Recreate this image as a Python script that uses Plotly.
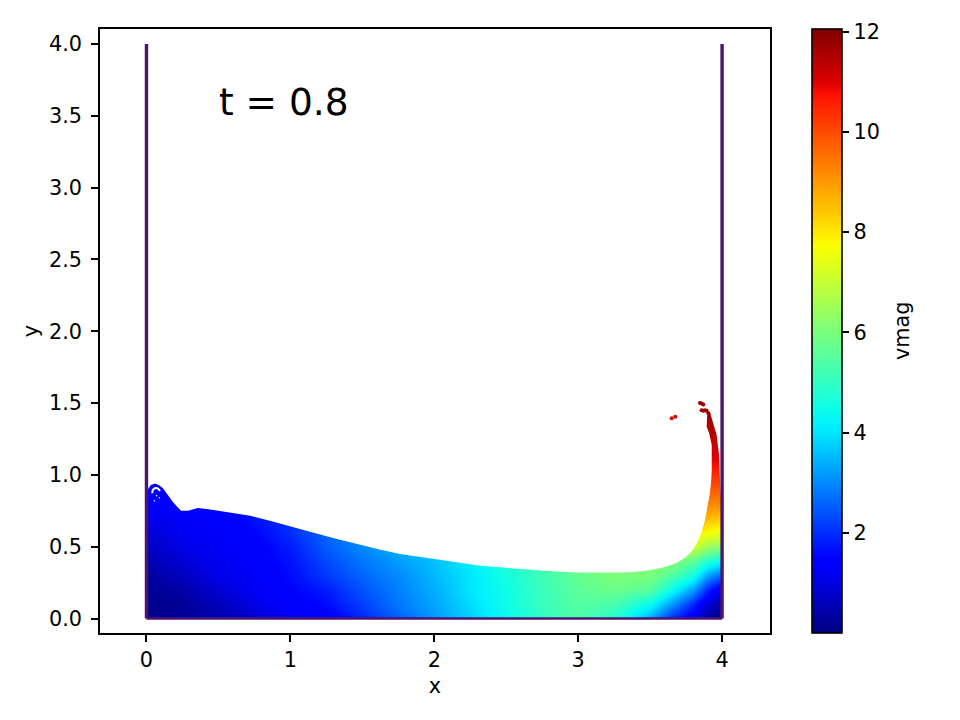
import plotly.graph_objects as go

grid_x = [0, .25, .5, .75, 1, 1.25, 1.5, 1.75, 2, 2.25, 2.5, 2.75, 3, 3.25, 3.5, 3.65, 3.8, 3.9, 4]
grid_y = [0, .02, .1, .2, .3, .4, .5, .6, .7, .8, .95, 1.1, 1.3, 1.5]
vmag = [
 [.6, .6, .9, 1.2, 1.4, 1.5, 1.6, 2.0, 2.9, 3.6, 4.1, 4.7, 5.1, 4.6, 3.2, 2.0, 1.0, .3, .1],
 [.1, .3, .5, .9, 1.2, 1.4, 2.0, 2.6, 3.2, 3.8, 4.4, 5.0, 5.4, 4.9, 3.5, 2.2, 1.3, .4, .1],
 [.15, .25, .6, 1.1, 1.4, 1.6, 2.2, 2.8, 3.3, 3.9, 4.5, 5.1, 5.5, 5.3, 4.4, 3.2, 1.9, .9, .3],
 [.2, .4, .9, 1.25, 1.5, 1.8, 2.4, 2.9, 3.4, 4.0, 4.5, 5.1, 5.6, 5.8, 5.5, 4.4, 3.2, 1.9, 1.0],
 [.3, .7, 1.1, 1.3, 1.6, 2.1, 2.6, 3.0, 3.5, 4.0, 4.6, 5.2, 5.7, 6.0, 6.0, 5.4, 4.5, 3.2, 2.5],
 [.5, .9, 1.2, 1.35, 1.7, 2.3, 2.8, 3.2, 3.6, 4.1, 4.7, 5.3, 5.8, 6.0, 6.2, 6.2, 5.6, 4.8, 4.4],
 [.7, 1.1, 1.25, 1.4, 1.8, 2.5, 3.0, 3.4, 3.8, 4.4, 5.0, 5.5, 5.8, 6.0, 6.2, 6.4, 7.2, 6.4, 6.2],
 [.9, 1.2, 1.3, 1.5, 2.0, 2.6, 3.0, 3.4, 3.8, 4.4, 5.0, 5.5, 5.8, 6.0, 6.2, 6.6, 8.0, 7.7, 7.4],
 [1.1, 1.3, 1.35, 1.7, 2.0, 2.6, 3.0, 3.4, 3.8, 4.4, 5.0, 5.5, 5.8, 6.0, 6.2, 6.6, 8.4, 8.6, 8.4],
 [1.3, 1.4, 1.4, 1.7, 2.0, 2.6, 3.0, 3.4, 3.8, 4.4, 5.0, 5.5, 5.8, 6.0, 6.2, 6.6, 8.8, 9.2, 9.2],
 [1.4, 1.4, 1.4, 1.7, 2.0, 2.6, 3.0, 3.4, 3.8, 4.4, 5.0, 5.5, 5.8, 6.0, 6.2, 6.6, 9.4, 10.1, 10.1],
 [1.4, 1.4, 1.4, 1.7, 2.0, 2.6, 3.0, 3.4, 3.8, 4.4, 5.0, 5.5, 5.8, 6.0, 6.2, 6.6, 10.0, 10.9, 10.9],
 [1.4, 1.4, 1.4, 1.7, 2.0, 2.6, 3.0, 3.4, 3.8, 4.4, 5.0, 5.5, 5.8, 6.0, 6.2, 6.6, 11.0, 11.4, 11.4],
 [1.4, 1.4, 1.4, 1.7, 2.0, 2.6, 3.0, 3.4, 3.8, 4.4, 5.0, 5.5, 5.8, 6.0, 6.2, 6.6, 11.9, 11.9, 11.9],
]

# water outline (counter-clockwise from the floor)
surface_x = [0, 4, 4, 3.988, 3.985, 3.979, 3.962, 3.93, 3.915, 3.897, 3.893, 3.91, 3.928, 3.928, 3.922, 3.911, 3.898, 3.881,
             3.86, 3.835, 3.807, 3.777, 3.735, 3.685, 3.63, 3.568, 3.48, 3.38, 3.27, 3.15, 3.0, 2.874, 2.73, 2.596, 2.46,
             2.318, 2.18, 2.04, 1.9, 1.762, 1.62, 1.484, 1.31, 1.136, 1.0, .857, .72, .62, .51, .43, .358,
             .288, .24, .185, .15, .113, .085, .06, .03, .01, 0, 0]
surface_y = [0, 0, .75, .9, 1.014, 1.139, 1.278, 1.40, 1.44, 1.422, 1.336, 1.29, 1.208, 1.022, .93, .848, .765, .686,
             .61, .547, .495, .454, .417, .389, .367, .35, .335, .324, .32, .319, .321, .326, .334, .344, .356,
             .368, .388, .408, .428, .449, .48, .512, .557, .604, .643, .681, .716, .733, .748, .76, .77,
             .75, .75, .81, .86, .908, .93, .94, .93, .9, .85, 0]
outside_x = [-1, -1, 5, 5, -1]
outside_y = [-1, 5, 5, -1, -1]

drop_x = [3.65, 3.675, 3.846, 3.858, 3.87, 3.858, 3.87, 3.882, 3.893, 3.905]
drop_y = [1.394, 1.405, 1.50, 1.498, 1.49, 1.45, 1.447, 1.45, 1.447, 1.43]
drop_v = [11.0, 11.0, 11.7, 11.7, 11.7, 11.7, 11.7, 11.7, 11.7, 11.7]

hole_x = [.04, .045, .059, .08, .094]
hole_y = [.872, .897, .907, .905, .888]
speck_x = [.07, .09, .055]
speck_y = [.855, .84, .82]

wall_left_x, wall_left_y = [0, 0], [0, 4]
wall_right_x, wall_right_y = [4, 4], [0, 4]
floor_x, floor_y = [0, 4], [0, 0]

x_ticks = [0, 1, 2, 3, 4]
y_ticks = [0, .5, 1, 1.5, 2, 2.5, 3, 3.5, 4]
y_labels = ["0.0", "0.5", "1.0", "1.5", "2.0", "2.5", "3.0", "3.5", "4.0"]
cbar_ticks = [2, 4, 6, 8, 10, 12]
v_min, v_max = 0.0, 12.05

jet = [[0, "rgb(0,0,128)"], [.11, "rgb(0,0,255)"], [.125, "rgb(0,0,255)"], [.34, "rgb(0,240,255)"],
       [.375, "rgb(15,255,230)"], [.5, "rgb(124,255,121)"], [.64, "rgb(250,255,0)"], [.66, "rgb(255,234,0)"],
       [.89, "rgb(255,18,0)"], [.91, "rgb(223,0,0)"], [1, "rgb(128,0,0)"]]

FONT = "DejaVu Sans"
TICK = 20.8
WALL = "#4e1470"
W, H = 952, 712  # the page keeps an 8 px body margin
fig = go.Figure()
fig.add_trace(go.Heatmap(x=grid_x, y=grid_y, z=vmag, zsmooth="best", coloraxis="coloraxis", hoverinfo="skip"))
fig.add_trace(go.Scatter(x=outside_x + surface_x + outside_x[:1], y=outside_y + surface_y + outside_y[:1],
                         mode="lines", fill="toself", fillcolor="white", line=dict(width=0), hoverinfo="skip"))
fig.add_trace(go.Scatter(x=drop_x, y=drop_y, mode="markers",
                         marker=dict(size=4, color=drop_v, coloraxis="coloraxis", line=dict(width=0))))
fig.add_trace(go.Scatter(x=hole_x, y=hole_y, mode="lines", line=dict(color="white", width=2, shape="spline")))
fig.add_trace(go.Scatter(x=speck_x, y=speck_y, mode="markers", marker=dict(color="white", size=1.5, line=dict(width=0))))
for wx, wy, w in ((wall_left_x, wall_left_y, 3.4), (wall_right_x, wall_right_y, 3.4), (floor_x, floor_y, 2.6)):
    fig.add_trace(go.Scatter(x=wx, y=wy, mode="lines", line=dict(color=WALL, width=w)))

axis = dict(showgrid=False, zeroline=False, showline=True, mirror=True, linecolor="black", linewidth=1.6,
            ticks="outside", ticklen=7, tickwidth=1.6, tickcolor="black",
            tickfont=dict(family=FONT, size=TICK, color="black"))
fig.update_layout(
    width=W, height=H, margin=dict(l=0, r=0, t=0, b=0), autosize=False,
    paper_bgcolor="white", plot_bgcolor="white", showlegend=False,
    font=dict(family=FONT, size=TICK, color="black"),
    xaxis=dict(axis, domain=[92 / W, 762 / W], range=[-.323, 4.333], tickvals=x_ticks,
               ticktext=[str(t) for t in x_ticks], title=dict(text="x", font=dict(family=FONT, size=TICK), standoff=8)),
    yaxis=dict(axis, domain=[87 / H, 691 / H], range=[-.101, 4.105], tickvals=y_ticks, ticktext=y_labels,
               ticklabelstandoff=5, title=dict(text="y", font=dict(family=FONT, size=TICK), standoff=5)),
    coloraxis=dict(colorscale=jet, cmin=v_min, cmax=v_max,
                   colorbar=dict(x=804 / W, xanchor="left", y=87 / H, yanchor="bottom", len=604 / H,
                                 lenmode="fraction", thickness=30, thicknessmode="pixels", outlinewidth=1.6,
                                 outlinecolor="black", ticks="outside", ticklen=7, tickwidth=1.6, tickcolor="black",
                                 tickvals=cbar_ticks, tickfont=dict(family=FONT, size=TICK, color="black"),
                                 xpad=0, ypad=0)),
    annotations=[dict(x=.5, y=3.5, xref="x", yref="y", text="t = 0.8", showarrow=False, xanchor="left", yanchor="bottom",
                      xshift=-1, yshift=-10, font=dict(family=FONT, size=37.5, color="black")),
                 dict(x=894 / W, y=389 / H, xref="paper", yref="paper", text="vmag", showarrow=False, textangle=-90,
                      xanchor="center", yanchor="middle", font=dict(family=FONT, size=TICK, color="black"))],
)
fig.write_html("out.html")
